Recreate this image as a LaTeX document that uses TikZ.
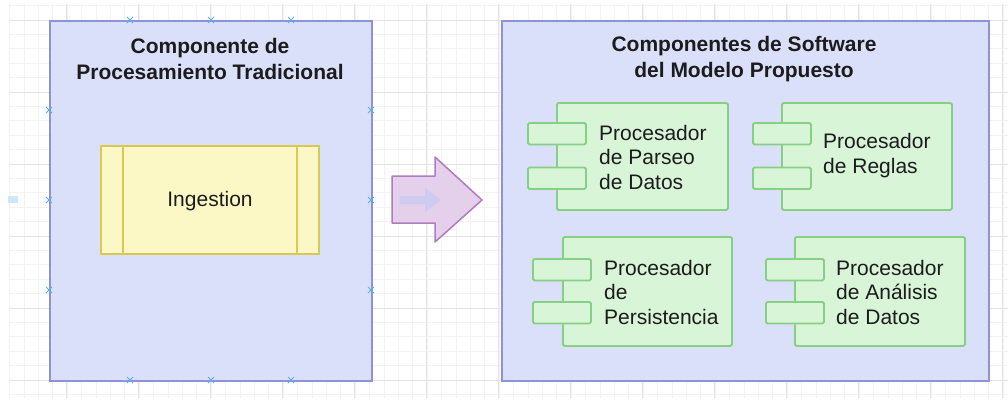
\documentclass[tikz,border=0pt]{standalone}
\usepackage{fontspec}
\setmainfont{Liberation Sans}
\definecolor{gridmin}{HTML}{F3F3F3}
\definecolor{gridmaj}{HTML}{E4E4E4}
\definecolor{boxfill}{HTML}{DAE0FA}
\definecolor{boxline}{HTML}{8E92D6}
\definecolor{ingfill}{HTML}{FBF8C6}
\definecolor{ingline}{HTML}{D8CB52}
\definecolor{compfill}{HTML}{D8F5D8}
\definecolor{compline}{HTML}{86D086}
\definecolor{arrfill}{HTML}{E4D0EA}
\definecolor{arrline}{HTML}{B07CC0}
\definecolor{arricon}{HTML}{CDCBF0}
\definecolor{markblue}{HTML}{5AAEF0}
\definecolor{txt}{HTML}{1C1C1C}
\tikzset{
  container/.style={draw=boxline, fill=boxfill, line width=1.8pt, inner sep=0, anchor=north west},
  title/.style={font=\bfseries\fontsize{21}{26}\selectfont, align=center, text=txt, inner sep=0},
  comptext/.style={font=\fontsize{21}{24.5}\selectfont, align=left, text=txt, inner sep=0, anchor=west},
  compbody/.style={draw=compline, fill=compfill, line width=1.8pt, rounded corners=1.5pt, inner sep=0, anchor=north west},
  comptab/.style={draw=compline, fill=compfill, line width=1.8pt, rounded corners=1.5pt, inner sep=0, anchor=north west, minimum width=58, minimum height=21.5},
  xmark/.style={draw=markblue, line width=1pt},
}
\newcommand{\xm}[2]{\draw[xmark] (#1-3,#2-3) -- (#1+3,#2+3) (#1-3,#2+3) -- (#1+3,#2-3);}
\begin{document}
\begin{tikzpicture}[x=1pt,y=-1pt]
\useasboundingbox (0,0) rectangle (1008,402);
\fill[white] (0,0) rectangle (1008,402);
% grid
\foreach \i in {0,...,70} {
  \pgfmathsetmacro{\gx}{9.6+14.4*\i}
  \ifdim\gx pt<1008pt \draw[gridmin, line width=0.7pt] (\gx,4) -- (\gx,398); \fi
}
\foreach \i in {-1,...,27} {
  \pgfmathsetmacro{\gy}{20+14.4*\i}
  \ifdim\gy pt>3pt \ifdim\gy pt<399pt \draw[gridmin, line width=0.7pt] (9,\gy) -- (1008,\gy); \fi\fi
}
\foreach \gx in {66,138,210,282,354,426,498,570,642,714,786,858,930,1002}
  \draw[gridmaj, line width=0.8pt] (\gx,4) -- (\gx,398);
\foreach \gy in {20,92,164,236,308,380}
  \draw[gridmaj, line width=0.8pt] (9,\gy) -- (1008,\gy);
\fill[markblue!30] (8,196) rectangle (18,203);

% left container
\node[container, minimum width=322, minimum height=360] (left) at (49,20) {};
\node[title] (lefttitle) at (210,59) {Componente de\\Procesamiento Tradicional};
\node[draw=ingline, fill=ingfill, line width=1.8pt, inner sep=0, minimum width=218, minimum height=108] (ing) at (210,200) {};
\draw[ingline, line width=1.8pt] ([xshift=23]ing.north west) -- ([xshift=23]ing.south west);
\draw[ingline, line width=1.8pt] ([xshift=-23]ing.north east) -- ([xshift=-23]ing.south east);
\node[font=\fontsize{21}{24}\selectfont, text=txt, inner sep=0] (ingtext) at (210,201) {Ingestion};
% connection markers
\foreach \p in {130,211,291} { \xm{\p}{20} \xm{\p}{380} }
\foreach \p in {110,200,290} { \xm{49}{\p} \xm{371}{\p} }

% big arrow
\draw[arrline, fill=arrfill, line width=1.5pt, line join=round] (392,176) -- (435,176) -- (435,157) -- (482,200) -- (435,242) -- (435,223) -- (392,223) -- cycle;
\fill[arricon] (400,196) -- (425,196) -- (425,188) -- (441,200) -- (425,212) -- (425,204) -- (400,204) -- cycle;
\coordinate (arrowtip) at (482,200);

% right container
\node[container, minimum width=487, minimum height=360] (right) at (501,20) {};
\node[title] (righttitle) at (744,59) {Componentes de Software\\del Modelo Propuesto};

% component 1
\node[compbody, minimum width=171, minimum height=107] (c1) at (556,102) {};
\node[comptab] (c1a) at (527,122) {};
\node[comptab] (c1b) at (527,166.5) {};
\node[comptext] (c1t) at (599,157) {Procesador\\de Parseo\\de Datos};
% component 2
\node[compbody, minimum width=170, minimum height=107] (c2) at (781,102) {};
\node[comptab] (c2a) at (752,122) {};
\node[comptab] (c2b) at (752,166.5) {};
\node[comptext] (c2t) at (823,155.5) {Procesador\\de Reglas};
% component 3
\node[compbody, minimum width=169, minimum height=109] (c3) at (562,236) {};
\node[comptab] (c3a) at (532,258) {};
\node[comptab] (c3b) at (532,301) {};
\node[comptext] (c3t) at (604,292) {Procesador\\de\\Persistencia};
% component 4
\node[compbody, minimum width=170, minimum height=109] (c4) at (794,236) {};
\node[comptab] (c4a) at (765,258) {};
\node[comptab] (c4b) at (765,301) {};
\node[comptext] (c4t) at (836,292) {Procesador\\de Análisis\\de Datos};
\end{tikzpicture}
\end{document}
